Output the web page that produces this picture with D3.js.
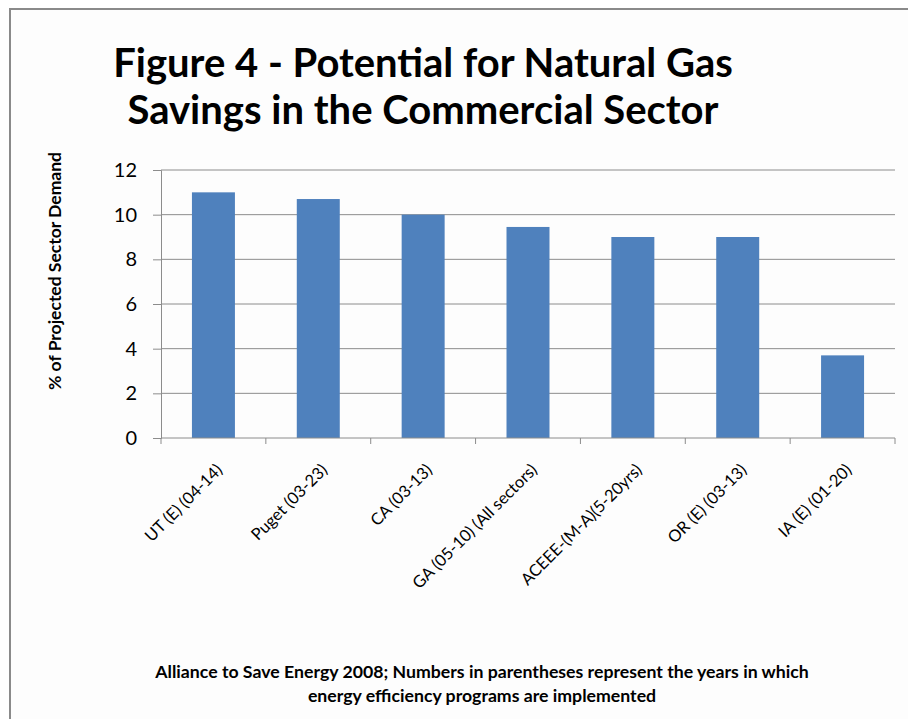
<!DOCTYPE html>
<html>
<head>
<meta charset="utf-8">
<script src="https://cdn.jsdelivr.net/npm/d3@7"></script>
<style>
    body { margin: 0; background: #ffffff; }
    svg { display: block; }
    .tick text { font-family: Lato, "Open Sans", sans-serif; }
</style>
</head>
<body>
<div id="chart"></div>
<script>
// chart data
let programs = ["UT (E) (04-14)", "Puget (03-23)", "CA (03-13)", "GA (05-10) (All sectors)",
    "ACEEE-(M-A)(5-20yrs)", "OR (E) (03-13)", "IA (E) (01-20)"];
let savings = [11.0, 10.7, 10.0, 9.45, 9.0, 9.0, 3.7];
let yTicks = [0, 2, 4, 6, 8, 10, 12];
let titleLines = ["Figure 4 - Potential for Natural Gas", "Savings in the Commercial Sector"];
let captionLines = ["Alliance to Save Energy 2008; Numbers in parentheses represent the years in which",
    "energy efficiency programs are implemented"];

let width = 908, height = 719;
let margin = {top: 170, right: 13, bottom: 281, left: 161};

let svg = d3.select("#chart").append("svg")
    .attr("width", width)
    .attr("height", height);

// outer frame
svg.append("rect")
    .attr("x", 10).attr("y", 9)
    .attr("width", width + 20).attr("height", height + 20)
    .attr("fill", "#fdfdfd")
    .attr("stroke", "#8a8a8a")
    .attr("stroke-width", 2);

// title
svg.append("g").selectAll("text")
    .data(titleLines)
    .enter().append("text")
    .attr("x", 423)
    .attr("y", (d, i) => 77 + i * 47)
    .attr("text-anchor", "middle")
    .style("font-family", "Lato, sans-serif")
    .style("font-weight", "bold")
    .style("font-size", "40px")
    .style("fill", "#000")
    .text(d => d);

let innerW = width - margin.left - margin.right;
let innerH = height - margin.top - margin.bottom;

let g = svg.append("g").attr("transform", `translate(${margin.left},${margin.top})`);

let x = d3.scaleBand()
    .domain(programs)
    .range([0, innerW])
    .paddingInner(0.59)
    .paddingOuter(0.295);

let y = d3.scaleLinear()
    .domain([0, 12])
    .range([innerH, 0]);

// gridlines
g.append("g")
    .selectAll("line")
    .data(yTicks.slice(1))
    .enter().append("line")
    .attr("x1", 0).attr("x2", innerW)
    .attr("y1", d => y(d)).attr("y2", d => y(d))
    .attr("stroke", "#8c8c8c")
    .attr("stroke-width", 1);

// y axis
let yAxis = g.append("g")
    .call(d3.axisLeft(y).tickValues(yTicks).tickSize(8).tickPadding(16));
yAxis.select(".domain").attr("stroke", "#8c8c8c");
yAxis.selectAll(".tick line").attr("stroke", "#8c8c8c");
yAxis.selectAll(".tick text")
    .style("font-size", "20px")
    .style("fill", "#000");

// bars
g.selectAll(".bar")
    .data(programs)
    .enter().append("rect")
    .attr("class", "bar")
    .attr("x", d => x(d))
    .attr("width", x.bandwidth())
    .attr("y", (d, i) => y(savings[i]))
    .attr("height", (d, i) => innerH - y(savings[i]))
    .attr("fill", "#4f81bd");

// x axis with ticks between categories
let step = x.step();
let xAxis = g.append("g").attr("transform", `translate(0,${innerH})`);
xAxis.append("line")
    .attr("x1", 0).attr("x2", innerW)
    .attr("stroke", "#8c8c8c");
xAxis.selectAll(".xtick")
    .data(d3.range(programs.length + 1))
    .enter().append("line")
    .attr("class", "xtick")
    .attr("x1", d => d * step).attr("x2", d => d * step)
    .attr("y1", 0).attr("y2", 6)
    .attr("stroke", "#8c8c8c");

xAxis.selectAll(".xlabel")
    .data(programs)
    .enter().append("text")
    .attr("class", "xlabel")
    .attr("transform", d => `translate(${x(d) + x.bandwidth() / 2 + 10},${33}) rotate(-45)`)
    .attr("text-anchor", "end")
    .style("font-family", "Lato, sans-serif")
    .style("font-size", "16.5px")
    .style("fill", "#000")
    .text(d => d);

// y axis title
svg.append("text")
    .attr("transform", `translate(61,${271}) rotate(-90)`)
    .attr("text-anchor", "middle")
    .style("font-family", "Lato, sans-serif")
    .style("font-weight", "bold")
    .style("font-size", "17.5px")
    .text("% of Projected Sector Demand");

// caption
svg.append("g").selectAll("text")
    .data(captionLines)
    .enter().append("text")
    .attr("x", 482)
    .attr("y", (d, i) => 678 + i * 24)
    .attr("text-anchor", "middle")
    .style("font-family", "Lato, sans-serif")
    .style("font-weight", "bold")
    .style("font-size", "17.7px")
    .style("fill", "#000")
    .text(d => d);
</script>
</body>
</html>
